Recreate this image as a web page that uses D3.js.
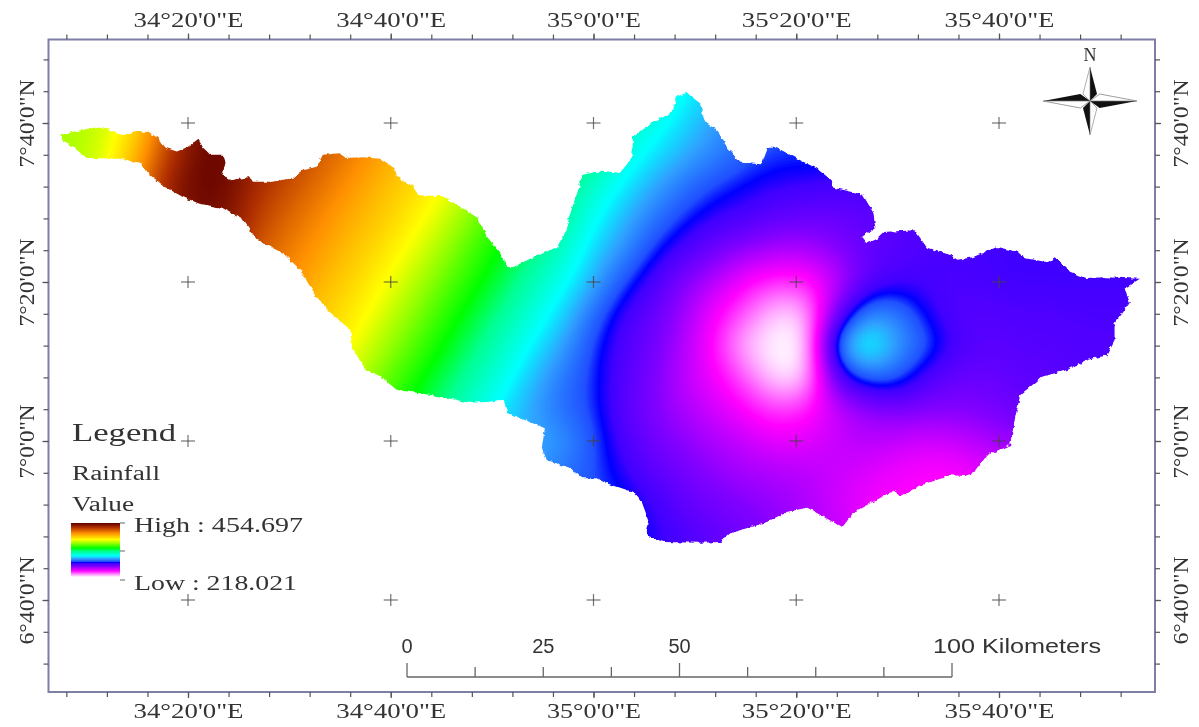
<!DOCTYPE html>
<html>
<head>
<meta charset="utf-8">
<style>
html, body { margin: 0; padding: 0; background: #fff; }
svg { display: block; filter: blur(0.5px); }
text { font-family: "Liberation Serif", serif; fill: #333; }
</style>
<script src="https://cdnjs.cloudflare.com/ajax/libs/d3/7.9.0/d3.min.js"></script>
</head>
<body>
<svg id="map" width="1199" height="727"></svg>
<script>
// all map positions are arc minutes: east of 34 deg 0' and north of 6 deg 0'
var lonMajor = [20, 40, 60, 80, 100];
var lonLabels = ["34°20'0\"E", "34°40'0\"E", "35°0'0\"E", "35°20'0\"E", "35°40'0\"E"];
var latMajor = [100, 80, 60, 40];
var latLabels = ["7°40'0\"N", "7°20'0\"N", "7°0'0\"N", "6°40'0\"N"];
var lonMinor = d3.range(8, 113, 4);
var latMinor = d3.range(32, 109, 4);

// basin boundary, clockwise from the west tip
var outline = [
  [7.4,98.5],[8.7,98.9],[11.0,99.5],[12.5,99.1],[13.6,98.5],[15.0,98.9],[16.1,98.9],[17.0,98.1],[17.8,96.9],[18.9,96.4],
  [20.0,97.0],[21.0,98.0],[21.5,96.9],[22.2,96.0],[23.5,96.0],[23.7,95.0],[23.4,93.5],[24.2,92.8],[26.1,93.2],[26.4,92.6],
  [28.4,92.6],[30.4,93.1],[31.4,94.1],[32.7,94.5],[33.3,96.0],[35.0,96.2],[35.3,95.6],[37.3,95.7],[39.0,95.5],[40.2,94.5],
  [40.7,93.2],[42.2,92.0],[42.7,90.9],[45.2,90.8],[47.1,89.3],[48.5,88.1],[49.5,85.7],[51.1,83.1],[51.5,81.9],[52.1,81.9],
  [53.7,82.9],[55.0,83.6],[56.4,84.4],[57.2,86.2],[57.7,88.7],[58.5,91.6],[58.9,93.5],[60.9,94.0],[62.6,93.7],[63.8,95.6],
  [63.9,98.2],[65.4,99.7],[67.8,101.4],[68.2,103.3],[69.2,103.8],[70.5,102.5],[71.0,100.1],[72.2,99.1],[73.2,96.9],[74.5,95.0],
  [76.6,94.8],[77.2,96.9],[78.1,96.9],[80.4,95.3],[82.0,94.3],[83.5,92.8],[83.6,91.9],[86.0,91.2],[86.6,90.9],[87.6,88.7],
  [87.8,86.8],[86.5,85.7],[87.0,84.9],[87.8,85.3],[88.6,86.3],[91.7,86.5],[92.9,84.3],[95.2,83.4],[95.9,82.8],[97.4,83.1],
  [99.8,84.4],[101.8,83.8],[102.6,83.0],[104.8,82.5],[105.5,83.1],[107.0,81.3],[108.5,80.5],[110.6,80.6],[113.9,80.4],[112.4,79.2],
  [112.9,77.4],[112.2,76.1],[111.4,74.8],[111.4,72.7],[110.6,70.8],[108.7,70.2],[106.7,68.9],[104.3,68.1],[102.1,65.8],[101.6,63.0],
  [101.1,59.5],[98.8,58.2],[97.6,56.0],[96.6,55.6],[95.2,55.7],[92.5,54.5],[90.2,53.0],[89.7,53.8],[86.0,51.3],[85.6,50.9],
  [84.5,49.1],[83.8,49.7],[81.1,51.6],[79.1,51.1],[77.1,49.8],[73.5,48.4],[72.5,47.3],[70.5,47.2],[66.9,47.3],[65.1,48.2],
  [65.4,50.1],[64.8,52.2],[63.9,53.6],[61.3,54.7],[60.4,55.3],[58.9,55.3],[57.7,56.6],[55.4,57.6],[54.9,59.1],[55.2,61.6],
  [51.6,63.5],[51.1,65.2],[49.5,64.9],[47.8,64.8],[45.2,65.5],[42.9,66.0],[40.6,66.4],[39.0,68.1],[37.5,68.9],[36.2,71.8],
  [36.0,74.0],[34.0,76.2],[32.5,78.4],[31.1,81.5],[29.4,83.6],[26.8,85.3],[25.4,87.9],[23.4,89.3],[20.9,89.9],[19.5,90.7],
  [17.8,91.9],[16.0,93.7],[15.3,95.0],[13.3,95.5],[9.9,95.6],[8.7,97.0],[7.7,97.6]
];

var gridLon = d3.range(6, 115, 3);
var gridLat = d3.range(104, 43, -4);
var rainfall = [
  [368,370,374,388,415,445,450,450,444,435,426,417,408,400,391,382,369,358,346,335,323,311,303,296,291,288,286,285,284,284,284,284,284,284,284,284,284],
  [368,370,375,392,425,450,454,447,438,429,420,411,403,394,385,374,362,350,338,323,314,305,298,292,288,286,285,284,283,283,283,283,283,283,283,283,283],
  [368,370,378,402,432,452,452,442,433,424,415,406,398,389,379,366,355,343,331,316,307,300,294,288,285,285,284,283,281,280,280,280,280,280,280,280,280],
  [368,372,382,412,442,454,450,436,427,418,409,400,392,383,371,358,344,331,319,308,299,291,285,282,279,278,277,276,275,275,276,277,277,277,277,277,277],
  [368,372,385,415,440,450,448,430,421,412,403,396,387,376,363,351,339,327,312,301,292,284,279,276,272,270,270,272,274,275,276,277,277,277,277,277,277],
  [368,372,385,415,440,445,440,425,415,407,398,390,380,368,355,344,332,320,305,296,284,276,268,262,258,258,264,271,274,276,277,278,279,279,279,279,279],
  [368,372,385,415,435,435,430,419,410,401,393,384,373,360,349,337,324,312,300,286,276,264,256,245,240,241,254,272,277,277,276,277,278,278,278,278,278],
  [368,372,385,410,430,430,425,413,405,396,388,378,365,353,341,329,316,305,290,278,270,260,246,236,222,224,268,296,294,280,274,274,275,275,276,276,276],
  [368,372,385,405,425,425,420,408,400,391,383,370,358,346,334,321,309,298,285,275,268,257,243,224,218,218,298,318,298,288,276,273,274,274,275,275,275],
  [368,372,385,405,420,420,415,405,395,386,375,362,350,338,326,314,302,292,284,274,266,255,247,236,220,222,274,290,289,275,270,270,272,273,274,274,274],
  [368,372,385,400,415,415,410,400,388,380,367,355,343,331,318,307,298,290,285,273,265,258,252,245,239,242,254,262,266,265,265,267,270,272,273,273,273],
  [368,372,385,400,410,410,405,395,385,375,362,350,338,325,312,305,300,297,287,276,268,263,258,254,249,250,254,257,254,252,254,258,262,266,268,268,268],
  [368,372,385,400,410,410,405,395,385,375,360,348,335,322,310,300,296,292,286,280,272,268,263,259,258,256,254,250,247,245,245,250,255,258,260,260,260],
  [368,372,385,400,410,410,405,395,385,375,360,348,335,322,310,300,295,290,287,284,279,271,268,265,262,258,252,248,245,245,245,248,250,252,254,254,254],
  [368,372,385,400,410,410,405,395,385,375,360,348,335,322,310,300,295,290,287,284,280,276,272,268,264,260,255,250,248,248,248,250,252,254,254,254,254],
  [368,372,385,400,410,410,405,395,385,375,360,348,335,322,310,300,295,290,287,284,280,276,272,268,264,260,255,250,248,248,248,250,252,254,254,254,254]
];

// colour ramp of the raster, mm -> colour
var rampValues = [218, 245, 265, 278, 282, 286, 298, 310, 330, 345, 365, 382, 410, 435, 454.697];
var rampColors = ["#ffffff", "#ff00ff", "#8000ff", "#4000ff", "#0000ff", "#2050ff", "#30a0ff", "#00ffff", "#00ff90", "#00ff00", "#90ff00", "#ffff00", "#ff9000", "#b03000", "#600000"];

var scaleKm = [0, 12.5, 25, 37.5, 50, 62.5, 75, 87.5, 100];
var scaleKmMajor = [0, 50, 100];
var scaleLabels = [0, 25, 50];

var svg = d3.select("#map");
var x = d3.scaleLinear().domain([20, 100]).range([188, 999]);
var y = d3.scaleLinear().domain([40, 100]).range([600, 123]);
var color = d3.scaleLinear().domain(rampValues).range(rampColors).clamp(true);

var frame = {left: 48.5, right: 1155, top: 39.5, bottom: 692};

drawRaster();
drawGraticule();
drawFrame();
drawLegend();
drawNorth();
drawScaleBar();

function drawRaster() {
  var defs = svg.append("defs");
  var rough = defs.append("filter").attr("id", "rough")
    .attr("filterUnits", "userSpaceOnUse").attr("x", 0).attr("y", 0).attr("width", 1199).attr("height", 727);
  rough.append("feTurbulence").attr("type", "fractalNoise").attr("baseFrequency", 0.2).attr("numOctaves", 2).attr("seed", 3).attr("result", "n");
  rough.append("feDisplacementMap").attr("in", "SourceGraphic").attr("in2", "n").attr("scale", 4)
    .attr("xChannelSelector", "R").attr("yChannelSelector", "G");

  var line = d3.line().x(function(d) { return x(d[0]); }).y(function(d) { return y(d[1]); }).curve(d3.curveLinearClosed);

  defs.append("mask").attr("id", "basin")
    .attr("maskUnits", "userSpaceOnUse").attr("x", 0).attr("y", 0).attr("width", 1199).attr("height", 727)
    .append("path").attr("d", line(outline)).attr("fill", "#fff").attr("filter", "url(#rough)");

  // resample the read values so the contour bands come out smooth
  var k = 6;
  var w = (gridLon.length - 1) * k + 1, h = (gridLat.length - 1) * k + 1;
  var data = new Float64Array(w * h);
  for (var j = 0; j < h; j++) {
    var r = Math.min(Math.floor(j / k), gridLat.length - 2), fy = j / k - r;
    for (var i = 0; i < w; i++) {
      var c = Math.min(Math.floor(i / k), gridLon.length - 2), fx = i / k - c;
      data[j * w + i] = (1 - fy) * ((1 - fx) * rainfall[r][c] + fx * rainfall[r][c + 1]) +
        fy * ((1 - fx) * rainfall[r + 1][c] + fx * rainfall[r + 1][c + 1]);
    }
  }
  d3.blur2({data: data, width: w, height: h}, 2);

  var lonAt = d3.scaleLinear().domain([0.5, w - 0.5]).range([gridLon[0], gridLon[gridLon.length - 1]]);
  var latAt = d3.scaleLinear().domain([0.5, h - 0.5]).range([gridLat[0], gridLat[gridLat.length - 1]]);
  var path = d3.geoPath(d3.geoTransform({
    point: function(a, b) { this.stream.point(x(lonAt(a)), y(latAt(b))); }
  }));

  var bands = d3.contours().size([w, h]).thresholds(d3.range(200, 455, 0.5))(Array.from(data));
  svg.append("g").attr("mask", "url(#basin)")
    .selectAll("path").data(bands).enter().append("path")
    .attr("d", path)
    .attr("fill", function(d) { return color(d.value); });
}

function drawGraticule() {
  var g = svg.append("g").attr("stroke", "#444").attr("stroke-opacity", 0.75).attr("stroke-width", 1.2);
  lonMajor.forEach(function(lo) {
    latMajor.forEach(function(la) {
      g.append("line").attr("x1", x(lo) - 7).attr("x2", x(lo) + 7).attr("y1", y(la)).attr("y2", y(la));
      g.append("line").attr("x1", x(lo)).attr("x2", x(lo)).attr("y1", y(la) - 6).attr("y2", y(la) + 6);
    });
  });
}

function styleAxis(g) {
  g.select(".domain").remove();
  g.selectAll("line").attr("stroke", "#555").attr("stroke-width", 1.2);
}

function drawFrame() {
  svg.append("rect").attr("x", frame.left).attr("y", frame.top)
    .attr("width", frame.right - frame.left).attr("height", frame.bottom - frame.top)
    .attr("fill", "none").attr("stroke", "#7f7fa6").attr("stroke-width", 2);

  var sides = [
    {axis: d3.axisTop, scale: x, t: [0, frame.top], minor: lonMinor},
    {axis: d3.axisBottom, scale: x, t: [0, frame.bottom], minor: lonMinor},
    {axis: d3.axisLeft, scale: y, t: [frame.left, 0], minor: latMinor},
    {axis: d3.axisRight, scale: y, t: [frame.right, 0], minor: latMinor}
  ];
  sides.forEach(function(s) {
    svg.append("g").attr("transform", "translate(" + s.t + ")")
      .call(s.axis(s.scale).tickValues(s.minor).tickSize(5).tickFormat(""))
      .call(styleAxis);
  });

  axisLabels(d3.axisTop(x), frame.top, true, 0, -12.5);
  axisLabels(d3.axisBottom(x), frame.bottom, true, 0, 26);
  axisLabels(d3.axisLeft(y), frame.left, false, -15, 0);
  axisLabels(d3.axisRight(y), frame.right, false, 33, 0);
}

function axisLabels(axis, pos, horizontal, dx, dy) {
  var values = horizontal ? lonMajor : latMajor;
  var labels = horizontal ? lonLabels : latLabels;
  var g = svg.append("g")
    .attr("transform", horizontal ? "translate(0," + pos + ")" : "translate(" + pos + ",0)")
    .call(axis.tickValues(values).tickSize(6).tickFormat(function(d, i) { return labels[i]; }))
    .call(styleAxis);
  g.selectAll("text")
    .attr("x", 0).attr("y", 0).attr("dy", null)
    .attr("text-anchor", "middle")
    .attr("font-family", "Liberation Serif").attr("font-size", 22).attr("fill", "#333")
    .attr("lengthAdjust", "spacingAndGlyphs")
    .attr("textLength", function(d, i) { return horizontal ? (i == 2 ? 94 : 110) : (i == 2 ? 74 : 88); })
    .attr("transform", "translate(" + dx + "," + dy + ")" + (horizontal ? "" : " rotate(-90)"));
}

function drawLegend() {
  var grad = svg.select("defs").append("linearGradient").attr("id", "ramp")
    .attr("x1", 0).attr("y1", 0).attr("x2", 0).attr("y2", 1);
  var pos = d3.scaleLinear().domain([454.697, 218.021]).range([0, 1]);
  // stops have to run from the top of the bar down, so high values first
  d3.range(rampValues.length - 1, -1, -1).forEach(function(i) {
    grad.append("stop").attr("offset", Math.min(1, Math.max(0, pos(rampValues[i])))).attr("stop-color", rampColors[i]);
  });
  svg.append("rect").attr("x", 71).attr("y", 523).attr("width", 49).attr("height", 54).attr("fill", "url(#ramp)");
  [523, 551, 580].forEach(function(t) {
    svg.append("line").attr("x1", 120).attr("x2", 125).attr("y1", t).attr("y2", t).attr("stroke", "#666");
  });
  var rows = [
    ["Legend", 72, 441, 26, 104],
    ["Rainfall", 72, 480, 20, 88],
    ["Value", 72, 511, 20, 62],
    ["High : 454.697", 134, 532, 22, 169],
    ["Low : 218.021", 134, 590, 22, 163]
  ];
  svg.selectAll(".legendText").data(rows).enter().append("text")
    .attr("class", "legendText")
    .attr("x", function(d) { return d[1]; }).attr("y", function(d) { return d[2]; })
    .attr("font-size", function(d) { return d[3]; })
    .attr("textLength", function(d) { return d[4]; }).attr("lengthAdjust", "spacingAndGlyphs")
    .text(function(d) { return d[0]; });
}

function drawNorth() {
  var g = svg.append("g").attr("transform", "translate(1090,101)");
  [0, 90, 180, 270].forEach(function(a) {
    var len = (a % 180 == 0) ? 1 : 1.38;
    var r = g.append("g").attr("transform", "rotate(" + a + ") scale(1," + len + ")");
    r.append("path").attr("d", "M0,-34L7,-7L0,0Z").attr("fill", "#111");
    r.append("path").attr("d", "M0,-34L-7,-7L0,0Z").attr("fill", "#fff").attr("stroke", "#777").attr("stroke-width", 0.6);
  });
  g.append("text").attr("x", 0).attr("y", -40).attr("text-anchor", "middle").attr("font-size", 18).text("N");
}

function drawScaleBar() {
  var km = d3.scaleLinear().domain([0, 100]).range([407, 952]);
  var g = svg.append("g").attr("stroke", "#666").attr("stroke-width", 1.3);
  g.append("line").attr("x1", km(0)).attr("x2", km(100)).attr("y1", 677).attr("y2", 677);
  scaleKm.forEach(function(d) {
    g.append("line").attr("x1", km(d)).attr("x2", km(d)).attr("y1", 677)
      .attr("y2", scaleKmMajor.indexOf(d) >= 0 ? 663 : 667);
  });
  scaleLabels.forEach(function(d) {
    svg.append("text").attr("x", km(d)).attr("y", 653).attr("text-anchor", "middle")
      .style("font-family", "'Liberation Sans'").attr("font-size", 20).text(d);
  });
  svg.append("text").attr("x", 933).attr("y", 653).style("font-family", "'Liberation Sans'").attr("font-size", 20)
    .attr("textLength", 168).attr("lengthAdjust", "spacingAndGlyphs").text("100 Kilometers");
}
</script>
</body>
</html>
